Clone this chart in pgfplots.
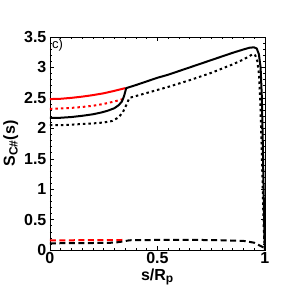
\documentclass[border=0pt]{standalone}
\usepackage{pgfplots}
\pgfplotsset{compat=1.18}
\usepackage{fontspec}
\setmainfont{Liberation Sans}
\usetikzlibrary{calc}
\begin{document}
\begin{tikzpicture}
\begin{axis}[
  scale only axis, width=215pt, height=213pt,
  xmin=0, xmax=1, ymin=0, ymax=3.5,
  xtick={0,0.5,1}, xticklabels={0,0.5,1},
  ytick={0,0.5,1,1.5,2,2.5,3,3.5},
  yticklabels={0,0.5,1,1.5,2,2.5,3,3.5},
  minor x tick num=9, minor y tick num=4,
  tick align=inside, major tick length=4pt, minor tick length=2pt,
  tick style={black, line width=0.4pt},
  axis line style={line width=0.6pt},
  ticklabel style={font=\fontsize{16}{16}\selectfont\bfseries},
  xticklabel style={yshift=1pt},
  xlabel={\textbf{s/R$_{\textbf{\fontsize{12}{12}\selectfont p}}$}},
  ylabel={\textbf{S$_{\textbf{\fontsize{12}{12}\selectfont C\#}}$(s)}},
  label style={font=\fontsize{16}{16}\selectfont\bfseries},
  xlabel style={yshift=2pt},
  ylabel style={yshift=-1pt},
  clip=false,
]
\coordinate (bl) at (rel axis cs:0,0);
\coordinate (tr) at (rel axis cs:1,1);
\node[anchor=north west, font=\fontsize{13}{13}\selectfont, inner sep=2pt] at (rel axis cs:0,1) {c)};
% red solid
\addplot[red, line width=2pt] coordinates {
(0,2.48) (0.05,2.485) (0.1,2.50) (0.15,2.52) (0.2,2.545) (0.25,2.575) (0.3,2.615) (0.35,2.66)};
% red dotted
\addplot[red, line width=2pt, dash pattern=on 2.5pt off 3pt] coordinates {
(0,2.32) (0.05,2.325) (0.1,2.335) (0.15,2.35) (0.2,2.37) (0.25,2.40) (0.3,2.44) (0.35,2.49)};
% black solid
\addplot[black, line width=2pt] coordinates {
(0,2.17) (0.05,2.173) (0.1,2.185) (0.15,2.205) (0.2,2.23) (0.24,2.26) (0.27,2.29) (0.30,2.33) (0.32,2.38) (0.335,2.44) (0.345,2.53) (0.355,2.66)
(0.4,2.71) (0.45,2.77) (0.5,2.83) (0.55,2.88) (0.6,2.94) (0.65,3.0) (0.7,3.06) (0.75,3.12) (0.8,3.18) (0.85,3.24) (0.9,3.295) (0.93,3.325) (0.95,3.33) (0.962,3.31) (0.972,3.22) (0.98,3.0) (0.986,2.5) (0.99,1.8) (0.994,1.0) (0.997,0.4) (1.0,0)};
% black dotted
\addplot[black, line width=2pt, dash pattern=on 2.5pt off 3pt] coordinates {
(0,2.05) (0.05,2.052) (0.1,2.06) (0.15,2.07) (0.2,2.08) (0.25,2.095) (0.29,2.12) (0.32,2.18) (0.34,2.27) (0.355,2.38) (0.37,2.5)
(0.4,2.53) (0.45,2.58) (0.5,2.63) (0.55,2.68) (0.6,2.735) (0.65,2.79) (0.7,2.85) (0.75,2.91) (0.8,2.98) (0.85,3.05) (0.9,3.13) (0.935,3.2) (0.945,3.22) (0.955,3.2) (0.965,3.1) (0.972,2.9) (0.978,2.5) (0.984,1.8) (0.99,1.0) (0.995,0.3) (1.0,0)};
% red dashed
\addplot[red, line width=2pt, dash pattern=on 6pt off 3.5pt] coordinates {
(0,0.16) (0.1,0.16) (0.2,0.162) (0.3,0.163) (0.35,0.165)};
% black dashed
\addplot[black, line width=2pt, dash pattern=on 6pt off 3.5pt] coordinates {
(0,0.11) (0.1,0.112) (0.2,0.115) (0.3,0.12) (0.34,0.14) (0.37,0.16) (0.5,0.165) (0.6,0.165) (0.7,0.165) (0.8,0.16) (0.9,0.15) (0.95,0.12) (1.0,0.03)};
\end{axis}
\path ($(bl)+(-48pt,-50pt)$) rectangle ($(tr)+(28pt,37pt)$);
\end{tikzpicture}
\end{document}
